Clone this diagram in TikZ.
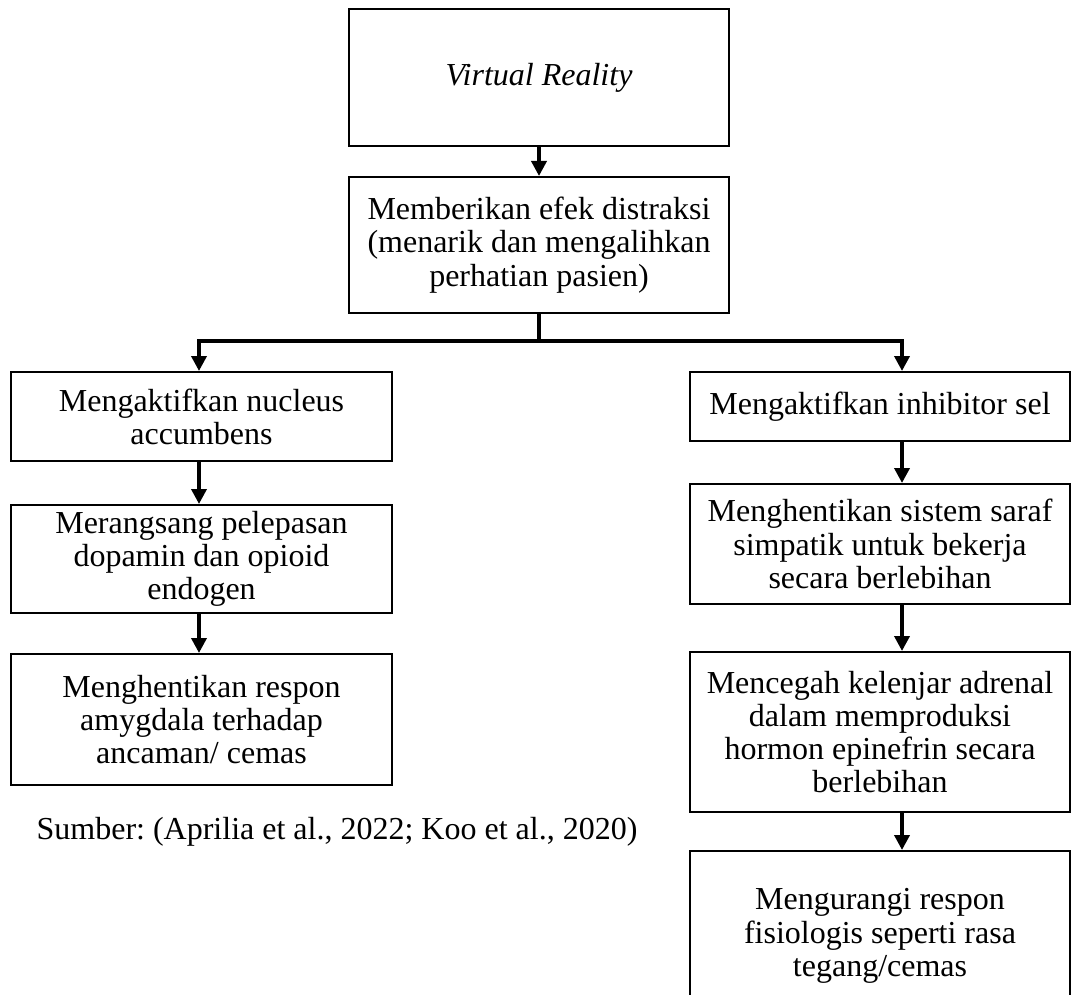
\documentclass[tikz,border=0pt]{standalone}
\usepackage{fontspec}
\setmainfont{Liberation Serif}
\usetikzlibrary{arrows.meta, positioning}

\begin{document}
\begin{tikzpicture}[x=0.5pt, y=-0.5pt,
		txt/.style={font=\fontsize{16pt}{16.6pt}\selectfont\frenchspacing},
		box/.style={txt, draw, line width=1pt, align=center, inner sep=0pt},
		arr/.style={line width=1.8pt, -{Triangle[width=7.5pt, length=7.5pt]}}]
				\useasboundingbox (0,0) rectangle (1074,994);

				\node[box, minimum width=190pt, minimum height=68.5pt] (vr) at (539,77.5) {\textit{Virtual Reality}};
				\node[box, minimum width=190pt, minimum height=68pt] (distr) at (539,245) {Memberikan efek distraksi\\(menarik dan mengalihkan\\perhatian pasien)};

				\node[box, minimum width=190.5pt, minimum height=44.5pt] (nac) at (201.5,416.5) {Mengaktifkan nucleus\\accumbens};
				\node[box, minimum width=190.5pt, minimum height=54pt] (dopa) at (201.5,559) {Merangsang pelepasan\\dopamin dan opioid\\endogen};
				\node[box, minimum width=190.5pt, minimum height=65.5pt] (amyg) at (201.5,719.5) {Menghentikan respon\\amygdala terhadap\\ancaman/ cemas};

				\node[box, minimum width=190pt, minimum height=34.5pt] (inhib) at (880,406.5) {Mengaktifkan inhibitor sel};
				\node[box, minimum width=190pt, minimum height=60pt] (simp) at (880,544) {Menghentikan sistem saraf\\simpatik untuk bekerja\\secara berlebihan};
				\node[box, minimum width=190pt, minimum height=80pt] (adren) at (880,732) {Mencegah kelenjar adrenal\\dalam memproduksi\\hormon epinefrin secara\\berlebihan};
				\node[box, minimum width=190pt, minimum height=85pt] (fisio) at (880,936) {Mengurangi respon\\fisiologis seperti rasa\\tegang/cemas};

				\node[txt, inner sep=0pt] (src) at (337,832) {Sumber: (Aprilia et al., 2022; Koo et al., 2020)};

				\coordinate (split) at (539,341);
				\coordinate (lx) at (199,341);
				\coordinate (rx) at (902,341);

				\draw[arr] (vr.south) -- (distr.north);
				\draw[arr] (distr.south) -- (split) -- (lx) -- (nac.north -| lx);
				\draw[arr] (split) -- (rx) -- (inhib.north -| rx);

				\draw[arr] (nac.south -| lx) -- (dopa.north -| lx);
				\draw[arr] (dopa.south -| lx) -- (amyg.north -| lx);

				\draw[arr] (inhib.south -| rx) -- (simp.north -| rx);
				\draw[arr] (simp.south -| rx) -- (adren.north -| rx);
				\draw[arr] (adren.south -| rx) -- (fisio.north -| rx);
\end{tikzpicture}
\end{document}
